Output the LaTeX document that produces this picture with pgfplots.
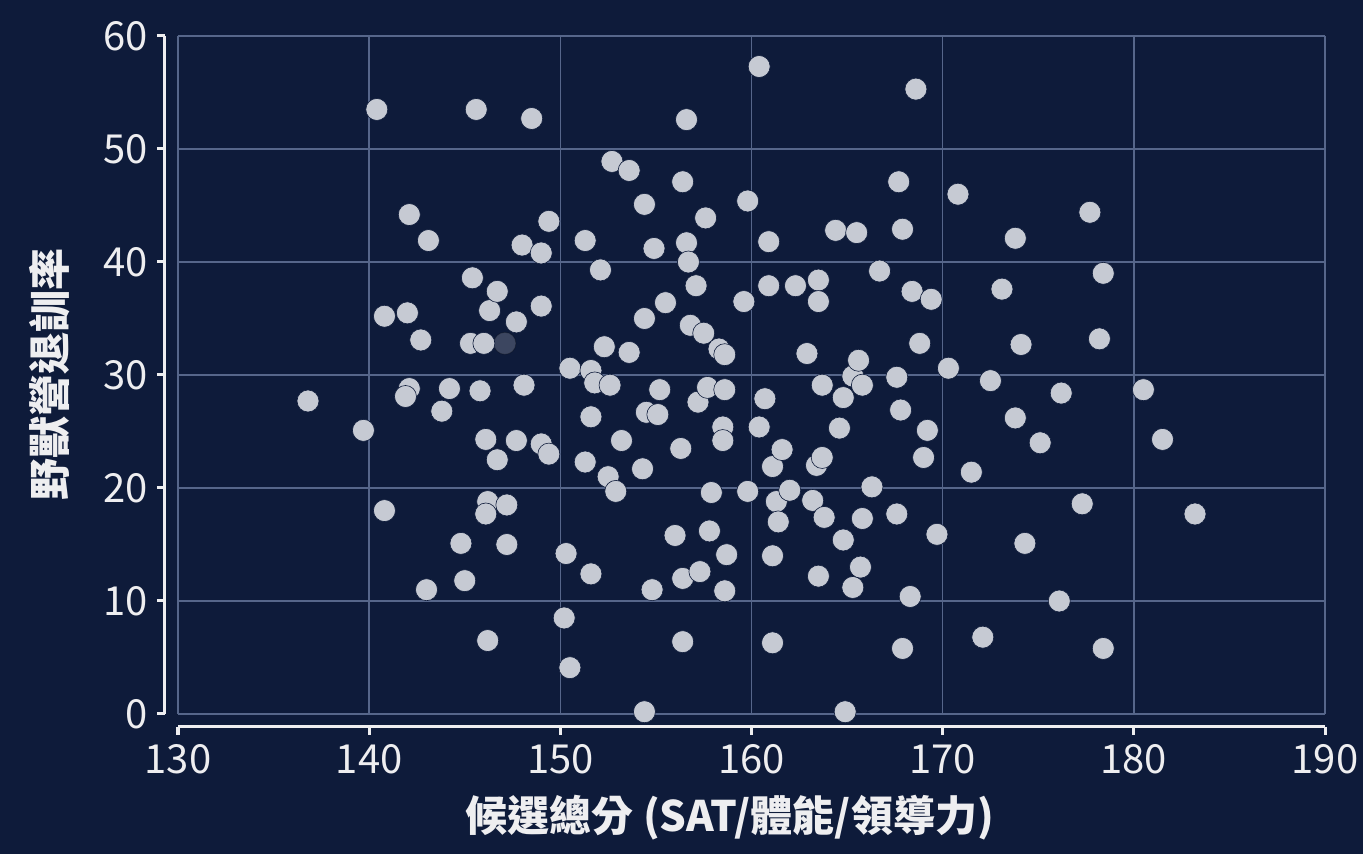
\documentclass[border=0pt]{standalone}
\usepackage{pgfplots}
\pgfplotsset{compat=1.18}
\usepackage{fontspec}
\setmainfont{Noto Sans CJK TC}
\definecolor{bg}{HTML}{0E1B3A}
\definecolor{gridc}{HTML}{56668A}
\definecolor{ptc}{HTML}{C6CAD3}
\definecolor{axc}{HTML}{EEEEF0}
\begin{document}
\begin{tikzpicture}
\path[use as bounding box, fill=bg] (-89pt,-70pt) rectangle (592.5pt,357pt);
\begin{axis}[
  scale only axis, width=573.5pt, height=339pt,
  xmin=130, xmax=190, ymin=0, ymax=60,
  xtick={130,140,...,190}, ytick={0,10,...,60},
  axis x line*=bottom, axis y line*=left,
  axis x line shift=6.5pt, axis y line shift=6.5pt,
  axis line style={draw=axc, line width=1.5pt, -},
  tick style={draw=axc, line width=1.5pt},
  tick align=outside, major tick length=4pt,
  grid=major, major grid style={draw=gridc, line width=0.8pt},
  /pgf/number format/assume math mode=true,
  /pgf/number format/1000 sep={},
  ticklabel style={font=\fontsize{20}{24}\selectfont, text=axc},
  xticklabel style={yshift=-1pt},
  yticklabel style={xshift=-1pt},
  xlabel={候選總分 (SAT/體能/領導力)},
  ylabel={野獸營退訓率},
  every axis x label/.style={at={(axis description cs:0.481,0)}, anchor=center, yshift=-52pt,
     font=\fontsize{21}{25}\selectfont\bfseries, text=axc},
  every axis y label/.style={at={(axis description cs:0,0.5)}, anchor=center, rotate=90, yshift=64pt,
     font=\fontsize{21}{25}\selectfont\bfseries, text=axc},
  clip=false,
]
\addplot[only marks, mark=*, mark size=5.5pt, mark options={fill=ptc, draw=none, opacity=0.25}] coordinates {
(147.1,32.8)
};
\addplot[only marks, mark=*, mark size=5.5pt, mark options={fill=ptc, draw=bg, line width=0.3pt}] coordinates {
(136.8,27.7) (139.7,25.1) (140.4,53.5) (140.8,35.2) (140.8,18.0) (142.1,44.2)
(142.0,35.5) (142.7,33.1) (143.1,41.9) (142.1,28.8) (141.9,28.1) (143.0,11.0)
(143.8,26.8) (144.2,28.8) (144.8,15.1) (145.0,11.8) (145.4,38.6) (145.3,32.8)
(145.6,53.5) (146.0,32.8) (145.8,28.6) (146.1,24.3) (146.2,18.8) (146.1,17.7)
(146.2,6.5) (146.3,35.7) (146.7,37.4) (146.7,22.5) (147.2,18.5) (147.2,15.0)
(147.7,24.2) (147.7,34.7) (148.0,41.5) (148.1,29.1) (148.5,52.7) (149.0,36.1)
(149.0,40.8) (149.0,23.9) (149.4,23.0) (149.4,43.6) (150.3,14.2) (150.2,8.5)
(150.5,4.1) (150.5,30.6) (151.3,41.9) (151.3,22.3) (151.6,30.4) (151.6,26.3)
(151.6,12.4) (151.8,29.3) (152.1,39.3) (152.3,32.5) (152.5,21.0) (152.6,29.1)
(152.7,48.9) (152.9,19.7) (153.2,24.2) (153.6,48.1) (153.6,32.0) (154.3,21.7)
(154.4,35.0) (154.4,45.1) (154.4,0.2) (154.5,26.7) (154.8,11.0) (154.9,41.2)
(155.1,26.5) (155.2,28.7) (155.5,36.4) (156.0,15.8) (156.3,23.5) (156.4,12.0)
(156.4,47.1) (156.4,6.4) (156.6,52.6) (156.6,41.7) (156.7,40.0) (156.8,34.4)
(157.1,37.9) (157.2,27.6) (157.3,12.6) (157.5,33.7) (157.6,43.9) (157.7,28.9)
(157.8,16.2) (157.9,19.6) (158.3,32.3) (158.6,31.8) (158.5,25.4) (158.5,24.2)
(158.6,10.9) (158.7,14.1) (158.6,28.7) (159.6,36.5) (159.8,45.4) (159.8,19.7)
(160.4,57.3) (160.4,25.4) (160.7,27.9) (160.9,41.8) (160.9,37.9) (161.1,21.9)
(161.1,14.0) (161.1,6.3) (161.3,18.8) (161.4,17.0) (161.6,23.4) (162.0,19.8)
(162.3,37.9) (162.9,31.9) (163.2,18.9) (163.5,38.4) (163.5,36.5) (163.4,22.0)
(163.5,12.2) (163.7,29.1) (163.7,22.7) (163.8,17.4) (164.4,42.8) (164.6,25.3)
(164.8,15.4) (164.8,28.0) (164.9,0.2) (165.3,11.2) (165.3,29.9) (165.6,31.3)
(165.5,42.6) (165.7,13.0) (165.8,17.3) (165.8,29.1) (166.3,20.1) (166.7,39.2)
(167.6,17.7) (167.6,29.8) (167.7,47.1) (167.8,26.9) (167.9,5.8) (167.9,42.9)
(168.3,10.4) (168.4,37.4) (168.6,55.3) (168.8,32.8) (169.0,22.7) (169.2,25.1)
(169.4,36.7) (169.7,15.9) (170.3,30.6) (170.8,46.0) (171.5,21.4) (172.1,6.8)
(172.5,29.5) (173.1,37.6) (173.8,42.1) (173.8,26.2) (174.1,32.7) (174.3,15.1)
(175.1,24.0) (176.1,10.0) (176.2,28.4) (177.3,18.6) (177.7,44.4) (178.2,33.2)
(178.4,39.0) (178.4,5.8) (180.5,28.7) (181.5,24.3) (183.2,17.7)
};
\end{axis}
\end{tikzpicture}
\end{document}
